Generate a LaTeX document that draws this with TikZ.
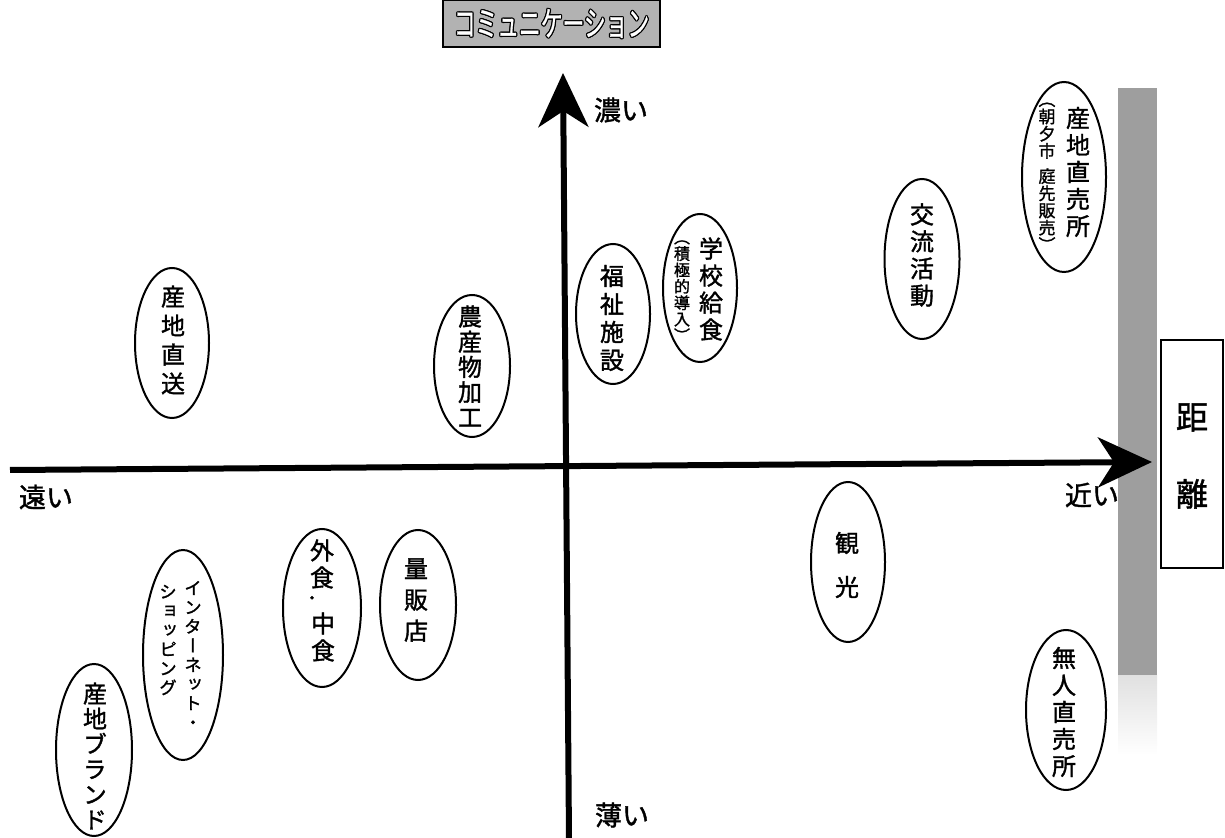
\documentclass[tikz,border=0pt]{standalone}
\usepackage{fontspec}
\setmainfont{Noto Sans CJK JP}[FakeBold=1.4]
\newfontfamily\vfont[RawFeature=+vert,FakeBold=1.4]{Noto Sans CJK JP}
\newfontfamily\tfont[FakeBold=1.0]{Noto Sans CJK JP}
\usetikzlibrary{arrows.meta,shapes.geometric}
\begin{document}
\begin{tikzpicture}[x=0.5pt,y=-0.5pt,
 oval/.style={draw,ellipse,line width=1pt,inner sep=0pt},
 vt/.style={align=center,inner sep=0pt,font=\vfont\fontsize{12}{13.5}\selectfont},
 vs/.style={align=center,inner sep=0pt,font=\vfont\fontsize{8}{8.2}\selectfont},
 lab/.style={inner sep=0pt,font=\fontsize{13.5}{15}\selectfont},
 ctext/.style={inner sep=0pt,font=\tfont\fontsize{17}{19}\selectfont},
 axis/.style={line width=3pt,-{Stealth[length=27pt,width=25pt,inset=8pt]}}]
\useasboundingbox (0,0) rectangle (1225,838);

% gray gradient bar
\fill[black!38] (1118,88) rectangle (1157,675);
\shade[top color=black!12,bottom color=white] (1118,675) rectangle (1157,755);

% top box
\node[draw,fill=black!30,line width=0.8pt,minimum width=108.5pt,minimum height=23.5pt,inner sep=0pt] (cbox) at (551.5,23.5) {};
\foreach \dx/\dy [count=\i] in {0.6/0,-0.6/0,0/0.6,0/-0.6,0.45/0.45,-0.45/0.45,0.45/-0.45,-0.45/-0.45}
  \node[ctext,black,xshift=\dx pt,yshift=\dy pt] (cto\i) at (cbox) {\scalebox{0.64}[1]{コミュニケーション}};
\node[ctext,white] (ctw) at (cbox) {\scalebox{0.64}[1]{コミュニケーション}};

% distance box
\node[draw,line width=0.8pt,minimum width=31pt,minimum height=114pt,inner sep=0pt] (dbox) at (1192,454) {};
\node[align=center,inner sep=0pt,font=\fontsize{16}{38.5}\selectfont] (dtext) at (1192,456) {距\\離};

% axes
\coordinate (hL) at (10,470);
\coordinate (hR) at (1152,462);
\draw[axis] (hL) -- (hR);
\coordinate (vB) at (569,840);
\coordinate (vT) at (563,73);
\draw[axis] (vB) -- (vT);

% axis labels
\node[lab] (koi) at (621,110) {濃い};
\node[lab] (usui) at (622,815) {薄い};
\node[lab] (toi) at (46,497) {遠い};
\node[lab] (chikai) at (1092,495) {近い};

% ellipses
\node[oval,minimum width=37pt,minimum height=75pt] (e1) at (172,343) {};
\node[vt,font=\vfont\fontsize{12}{14.5}\selectfont] (t1) at (173,340) {産\\地\\直\\送};

\node[oval,minimum width=38pt,minimum height=71pt] (e2) at (472,366) {};
\node[vt,font=\vfont\fontsize{12}{12.6}\selectfont] (t2) at (470,366) {農\\産\\物\\加\\工};

\node[oval,minimum width=37pt,minimum height=70pt] (e3) at (613,314) {};
\node[vt,font=\vfont\fontsize{12}{14}\selectfont] (t3) at (612,318) {福\\祉\\施\\設};

\node[oval,minimum width=37pt,minimum height=74pt] (e4) at (700,288) {};
\node[vt] (t4) at (711,289) {学\\校\\給\\食};
\node[vs] (s4) at (682,291) {（\\積\\極\\的\\導\\入\\）};

\node[oval,minimum width=37.5pt,minimum height=80pt] (e5) at (922,259) {};
\node[vt,font=\vfont\fontsize{12}{13.5}\selectfont] (t5) at (922,255) {交\\流\\活\\動};

\node[oval,minimum width=42pt,minimum height=95pt] (e6) at (1064,177) {};
\node[vt,font=\vfont\fontsize{12}{13.5}\selectfont] (t6) at (1078,172) {産\\地\\直\\売\\所};
\node[vs,font=\vfont\fontsize{8.5}{8.6}\selectfont] (s6) at (1047,177) {（\\朝\\夕\\市\\[4pt]庭\\先\\販\\売\\）};

\node[oval,minimum width=37pt,minimum height=80pt] (e7) at (848,562) {};
\node[vt,font=\vfont\fontsize{12}{22}\selectfont] (t7) at (847,565) {観\\光};

\node[oval,minimum width=40pt,minimum height=80pt] (e8) at (1066,710) {};
\node[vt] (t8) at (1064,712) {無\\人\\直\\売\\所};

\node[oval,minimum width=38pt,minimum height=75pt] (e9) at (418,605) {};
\node[vt,font=\vfont\fontsize{12}{15.5}\selectfont] (t9) at (416,600) {量\\販\\店};

\node[oval,minimum width=39pt,minimum height=79pt] (e10) at (322,608) {};
\node[vt] (t10a) at (322,564) {外\\食};
\node[vt] (t10b) at (323,637) {中\\食};
\node[inner sep=0pt,font=\fontsize{8}{8}\selectfont] (t10c) at (312,600) {・};

\node[oval,minimum width=40pt,minimum height=105pt] (e11) at (183,655) {};
\node[vs,font=\vfont\fontsize{8.8}{9.6}\selectfont] (t11) at (193,655) {イ\\ン\\タ\\ー\\ネ\\ッ\\ト\\・};
\node[vs,font=\vfont\fontsize{8.8}{9.6}\selectfont] (s11) at (168,640) {シ\\ョ\\ッ\\ピ\\ン\\グ};

\node[oval,minimum width=38pt,minimum height=86pt] (e12) at (94,750) {};
\node[vt,font=\vfont\fontsize{12}{12.6}\selectfont] (t12) at (95,756) {産\\地\\ブ\\ラ\\ン\\ド};
\end{tikzpicture}
\end{document}
